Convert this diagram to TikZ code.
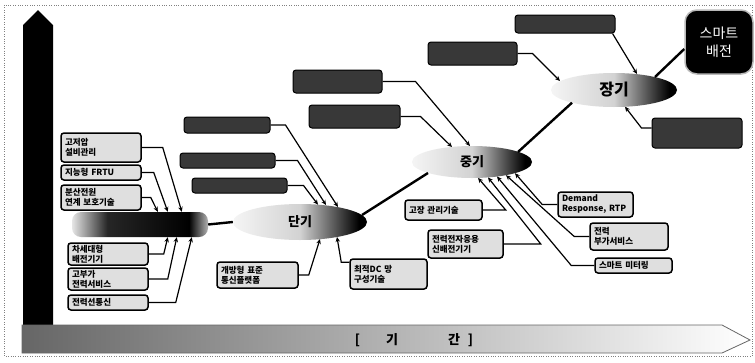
\documentclass[tikz,border=0pt]{standalone}
\usepackage{fontspec}
\setmainfont{Noto Sans CJK KR}
\usetikzlibrary{calc,arrows.meta,shapes.geometric}
\colorlet{cBarA}{gray!20}
\colorlet{cBarB}{black!85}
\colorlet{cBarC}{gray!60}
\colorlet{cEllA}{gray!8}
\colorlet{cEllB}{gray!35}
\pgfdeclarehorizontalshading{barshade}{100bp}{color(0bp)=(cBarA); color(25bp)=(cBarA); color(38bp)=(cBarB); color(68bp)=(black); color(75bp)=(cBarC); color(100bp)=(cBarC)}
\pgfdeclarehorizontalshading{ellshade}{100bp}{color(0bp)=(cEllA); color(25bp)=(cEllA); color(50bp)=(cEllB); color(72bp)=(black); color(100bp)=(black)}
\tikzset{
  lbox/.style={draw=black, line width=1.5pt, rounded corners=3pt, fill=gray!25,
    font=\bfseries\fontsize{8.5}{10}\selectfont, align=left, inner xsep=4pt, inner ysep=1pt},
  dbox/.style={draw=black, line width=1pt, rounded corners=3pt, fill=black!78, inner sep=0pt},
  ell/.style={ellipse, shading=ellshade, inner sep=0pt, font=\bfseries\fontsize{13}{13}\selectfont},
  conn/.style={draw=black, line width=1.2pt, -{Stealth[length=5pt,width=4.5pt]}},
  link/.style={draw=black, line width=2.4pt},
}
\begin{document}
\begin{tikzpicture}[x=1pt,y=-1pt]
\useasboundingbox (0,0) rectangle (755,362);
\fill[white] (0,0) rectangle (755,362);
\draw[gray, dotted] (4,5) rectangle (752,356);
% axes
\fill[black] (23,326) -- (23,25) -- (38,10) -- (53,25) -- (53,326) -- cycle;
\path[left color=black!60, right color=white, draw=black!60, line width=0.8pt]
  (22,325) -- (722,325) -- (750,340) -- (722,353) -- (22,353) -- cycle;
\node[font=\bfseries\fontsize{13}{13}\selectfont] (period) at (414,340)
  {[\hspace{26pt}기\hspace{50pt}간\hspace{8pt}]};
% left boxes
\node[lbox, text width=72pt, minimum height=29pt] (lb1) at (101,147.5) {고저압\\설비관리};
\node[lbox, text width=72pt, minimum height=15pt] (lb2) at (101,172.5) {지능형 FRTU};
\node[lbox, text width=72pt, minimum height=25pt] (lb3) at (101,197.5) {분산전원\\연계 보호기술};
\node[lbox, text width=72pt, minimum height=22pt] (lb4) at (108,254) {차세대형\\배전기기};
\node[lbox, text width=72pt, minimum height=22pt] (lb5) at (108,279) {고부가\\전력서비스};
\node[lbox, text width=72pt, minimum height=15pt] (lb6) at (108,302.5) {전력선통신};
% central bar
\node[shading=barshade, rounded corners=9pt, minimum width=136pt, minimum height=25pt, inner sep=0pt] (bar) at (140,224.5) {};
% ellipses
\node[ell, minimum width=134pt, minimum height=36pt] (danki) at (300,222) {단기};
\node[ell, minimum width=120pt, minimum height=32pt] (chungi) at (472,162) {중기};
\node[ell, minimum width=126pt, minimum height=34pt, font=\bfseries\fontsize{16}{16}\selectfont] (jangi) at (614,90) {장기};
% smart box
\node[fill=black, draw=gray!55, line width=1.5pt, rounded corners=12pt, minimum width=68pt, minimum height=64pt,
  text=white, align=center, font=\fontsize{14}{18}\selectfont] (smart) at (719,42) {스마트\\배전};
% dark boxes
\node[dbox, minimum width=86pt, minimum height=16pt] (dA) at (227,125) {};
\node[dbox, minimum width=95pt, minimum height=15pt] (dB) at (227.5,160.5) {};
\node[dbox, minimum width=95pt, minimum height=15pt] (dC) at (239.5,185.5) {};
\node[dbox, minimum width=89pt, minimum height=23pt] (dD) at (337.5,81.5) {};
\node[dbox, minimum width=91pt, minimum height=23pt] (dE) at (354.5,116.5) {};
\node[dbox, minimum width=89pt, minimum height=23pt] (dF) at (472.5,53.5) {};
\node[dbox, minimum width=100pt, minimum height=18pt] (dG) at (565,24) {};
\node[dbox, minimum width=90pt, minimum height=30pt] (dH) at (697,133) {};
% middle light boxes
\node[lbox, text width=73pt, minimum height=26pt] (m1) at (257.5,275) {개방형 표준\\통신플랫폼};
\node[lbox, text width=69pt, minimum height=30pt] (m2) at (388.5,274) {최적DC 망\\구성기술};
\node[lbox, text width=69pt, minimum height=20pt] (m3) at (443.5,210) {고장 관리기술};
\node[lbox, text width=67pt, minimum height=28pt] (m4) at (465.5,244) {전력전자응용\\신배전기기};
\node[lbox, text width=67pt, minimum height=25pt] (m5) at (595.5,204.5) {Demand\\Response, RTP};
\node[lbox, text width=70pt, minimum height=27pt] (m6) at (629,236.5) {전력\\부가서비스};
\node[lbox, text width=69pt, minimum height=15pt] (m7) at (633.5,265.5) {스마트 미터링};
% left connectors
\draw[conn] (lb1.east) -- ++(21,0) -- ($(bar.north west)+(110,0)$);
\draw[conn] (lb2.east) -- ++(12,0) -- ($(bar.north west)+(96,0)$);
\draw[conn] (lb3.east) -- ++(9,0) -- ($(bar.north west)+(86,0)$);
\draw[conn] (lb4.east) -- ++(15,0) -- ($(bar.south west)+(96,0)$);
\draw[conn] (lb5.east) -- ++(19,0) -- ($(bar.south west)+(105,0)$);
\draw[conn] (lb6.east) -- ++(27,0) -- ($(bar.south west)+(120,0)$);
% danki connectors
\draw[conn] (dA.east) -- ++(15,0) -- ($(danki.center)+(38,-15)$);
\draw[conn] (dB.east) -- ++(22,0) -- ($(danki.center)+(26,-17)$);
\draw[conn] (dC.east) -- ++(16,0) -- ($(danki.center)+(18,-17.3)$);
\draw[conn] (m1.east) -- ++(10,0) -- ($(danki.center)+(20,17)$);
\draw[conn] ($(m2.north west)+(0,4)$) -- ++(-8,0) -- ($(danki.center)+(37,15)$);
% main links
\draw[link] (bar.east) -- (danki.west);
\draw[link] ($(danki.center)+(62,-7)$) -- ($(chungi.center)+(-44,11)$);
\draw[link] ($(chungi.center)+(46,-10)$) -- ($(jangi.center)+(-42,12.7)$);
\draw[link] ($(jangi.center)+(41,-13)$) -- ($(smart.west)+(0,7)$);
% chungi connectors
\draw[conn] (dD.east) -- ++(33,0) -- ($(chungi.center)+(-2,-16)$);
\draw[conn] (dE.east) -- ++(20,0) -- ($(chungi.center)+(-20,-15)$);
\draw[conn] (m3.east) -- ++(23,0) -- ($(chungi.center)+(6,15.9)$);
\draw[conn] (m4.east) -- ++(37,0) -- ($(chungi.center)+(16,15.4)$);
\draw[conn] (m5.west) -- ++(-15,0) -- ($(chungi.center)+(43,11.2)$);
\draw[conn] (m6.west) -- ++(-15,0) -- ($(chungi.center)+(34,13.2)$);
\draw[conn] (m7.west) -- ++(-23,0) -- ($(chungi.center)+(25,14.5)$);
% jangi connectors
\draw[conn] (dF.east) -- ++(15,0) -- ($(jangi.center)+(-54,-9)$);
\draw[conn] ($(dG.south east)+(-3,0)$) -- ($(jangi.center)+(23,-16)$);
\draw[conn] ($(dH.west)+(0,-5)$) -- ++(-10,0) -- ($(jangi.center)+(11,16.7)$);
\end{tikzpicture}
\end{document}
